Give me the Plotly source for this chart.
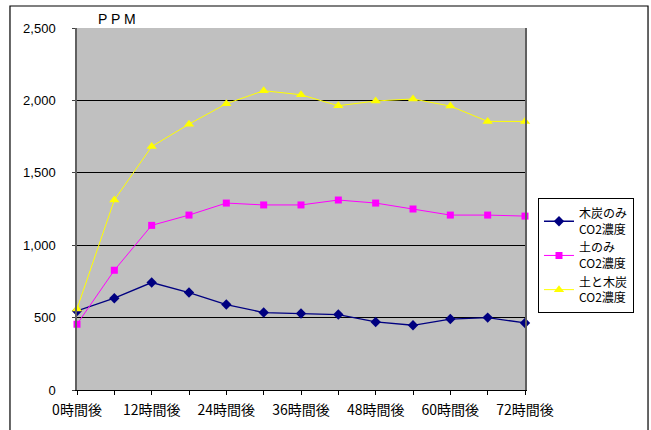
import plotly.graph_objects as go

# Elapsed hours (one reading every 6 hours)
hours = [0, 6, 12, 18, 24, 30, 36, 42, 48, 54, 60, 66, 72]
# Axis labels, shown every 12 hours
hour_labels = ["0時間後", "", "12時間後", "", "24時間後", "", "36時間後", "",
               "48時間後", "", "60時間後", "", "72時間後"]

# CO2 concentration (ppm)
charcoal_only = [546, 634, 742, 673, 590, 535, 528, 521, 470, 447, 490, 500, 463]
soil_only = [454, 827, 1137, 1208, 1291, 1278, 1278, 1312, 1291, 1250, 1208, 1208, 1201]
soil_and_charcoal = [560, 1312, 1681, 1836, 1977, 2067, 2039, 1963, 1996, 2010, 1961, 1855, 1855]

series_names = ["木炭のみ<br>CO2濃度", "土のみ<br>CO2濃度", "土と木炭<br>CO2濃度"]

JP = "Noto Sans CJK JP"

fig = go.Figure()
fig.add_trace(go.Scatter(
    x=hours, y=charcoal_only, name=series_names[0], mode="lines+markers",
    legendgroup="a",
    line=dict(color="#000080", width=1.3),
    marker=dict(symbol="diamond", size=8, color="#000080"),
    cliponaxis=False))
fig.add_trace(go.Scatter(
    x=hours, y=soil_only, name=series_names[1], mode="lines+markers",
    legendgroup="b",
    line=dict(color="#FF00FF", width=1),
    marker=dict(symbol="square", size=7, color="#FF00FF"),
    cliponaxis=False))
fig.add_trace(go.Scatter(
    x=hours, y=soil_and_charcoal, name=series_names[2], mode="lines+markers",
    legendgroup="c",
    line=dict(color="#FFFF00", width=1),
    marker=dict(symbol="triangle-up", size=9, color="#FFFF00"),
    cliponaxis=False))

fig.update_layout(
    width=651, height=430,
    margin=dict(l=77, r=126, t=28, b=40),
    paper_bgcolor="white",
    plot_bgcolor="#C0C0C0",
    font=dict(family=JP, size=13, color="black"),
    showlegend=True,
    legend=dict(
        x=1.029, y=0.530, xanchor="left", yanchor="top",
        bgcolor="white", bordercolor="black", borderwidth=1,
        font=dict(family=JP, size=12, color="black"),
        traceorder="grouped", tracegroupgap=0, itemwidth=30,
    ),
    xaxis=dict(
        range=[0, 72], tickmode="array", tickvals=hours, ticktext=hour_labels,
        showgrid=False, zeroline=False,
        showline=True, linecolor="black", linewidth=1,
        ticks="outside", ticklen=4, tickcolor="black",
        tickfont=dict(family=JP, size=14),
        ticklabelstandoff=3,
    ),
    yaxis=dict(
        range=[0, 2500], dtick=500, tickformat=",",
        showgrid=True, gridcolor="black", gridwidth=1, zeroline=False,
        showline=True, linecolor="#606060", linewidth=1.5, mirror=True,
        ticks="outside", ticklen=3, tickcolor="#404040",
        tickfont=dict(family="Liberation Sans", size=13),
        ticklabelstandoff=14,
    ),
    annotations=[dict(
        text="P P M", xref="paper", yref="paper", x=0.09, y=1.0,
        xanchor="center", yanchor="bottom", showarrow=False, yshift=-1,
        font=dict(family="Liberation Sans", size=14),
    )],
    shapes=[dict(
        type="rect", xref="paper", yref="paper",
        x0=-0.1496, x1=1.2746, y0=-0.3, y1=1.0608,
        line=dict(color="black", width=1.2), fillcolor="rgba(0,0,0,0)",
        layer="above",
    )],
)

fig.write_html("out.html")
